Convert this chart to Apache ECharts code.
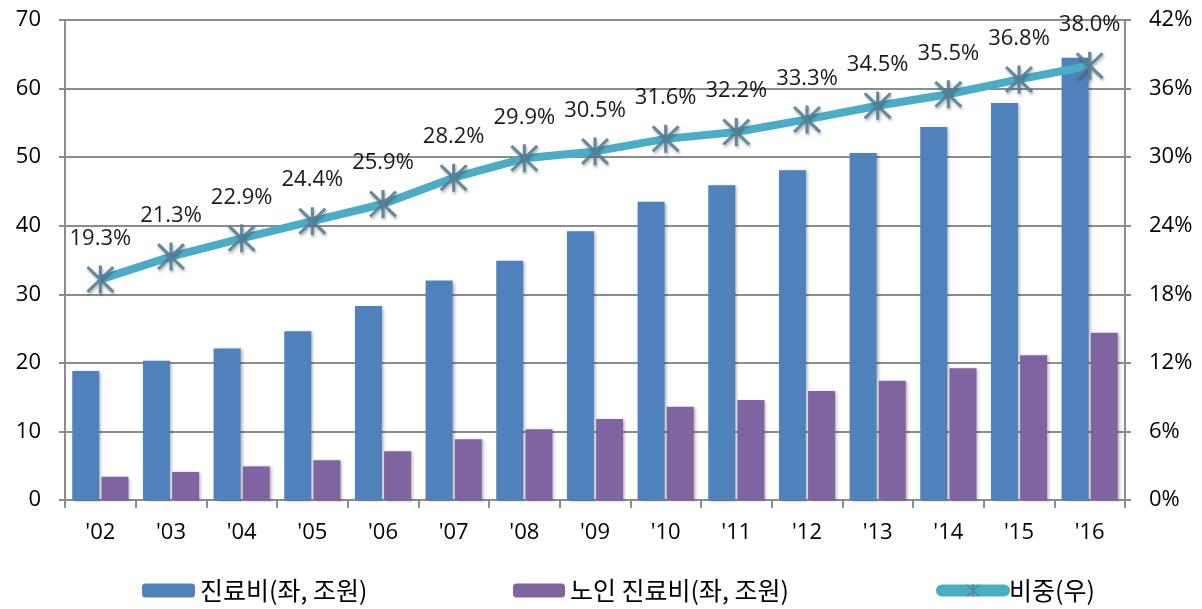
<!DOCTYPE html>
<html>
<head>
<meta charset="utf-8">
<script src="https://cdn.jsdelivr.net/npm/echarts@6/dist/echarts.min.js"></script>
<style>
  html, body { margin: 0; padding: 0; background: #fff; }
  #chart { width: 1202px; height: 609px; }
</style>
</head>
<body>
<div id="chart"></div>
<script>
// years on the x axis
const years = ["'02", "'03", "'04", "'05", "'06", "'07", "'08", "'09", "'10", "'11", "'12", "'13", "'14", "'15", "'16"];
// 진료비 (left axis, 조원)
const totalCost = [18.8, 20.3, 22.1, 24.6, 28.3, 32.0, 34.9, 39.2, 43.5, 45.9, 48.1, 50.6, 54.4, 57.9, 64.5];
// 노인 진료비 (left axis, 조원)
const elderlyCost = [3.4, 4.1, 4.9, 5.8, 7.1, 8.85, 10.3, 11.8, 13.6, 14.6, 15.9, 17.4, 19.2, 21.1, 24.4];
// 비중 (right axis, %)
const share = [19.3, 21.3, 22.9, 24.4, 25.9, 28.2, 29.9, 30.5, 31.6, 32.2, 33.3, 34.5, 35.5, 36.8, 38.0];

const NAMES = ['진료비(좌, 조원)', '노인 진료비(좌, 조원)', '비중(우)'];
const FONT = '"Open Sans", "Noto Sans CJK KR", sans-serif';
const KFONT = '"Noto Sans CJK KR", "Noto Sans", sans-serif';
const GRID_COLOR = '#8c8c8c';

// asterisk marker: vertical bar plus two diagonals
const STAR = 'path://M-1.5,-14L1.5,-14L1.5,14L-1.5,14Z' +
  'M-11.4,-13.5L13.5,11.4L11.4,13.5L-13.5,-11.4Z' +
  'M11.4,-13.5L13.5,-11.4L-11.4,13.5L-13.5,11.4Z';

const chart = echarts.init(document.getElementById('chart'));

const legendBase = {
  bottom: 1,
  itemHeight: 14,
  textStyle: { fontFamily: KFONT, fontSize: 25, color: '#000' },
  selectedMode: false
};

chart.setOption({
  animation: false,
  textStyle: { fontFamily: FONT },
  grid: { left: 65, right: 77, top: 20, bottom: 109 },
  legend: [
    Object.assign({}, legendBase, { left: 137, itemWidth: 53, data: [NAMES[0]] }),
    Object.assign({}, legendBase, { left: 508, itemWidth: 52, data: [NAMES[1]] }),
    Object.assign({}, legendBase, {
      left: 931, itemWidth: 62, itemHeight: 16, data: [NAMES[2]],
      lineStyle: { width: 12, cap: 'round' }
    })
  ],
  xAxis: {
    type: 'category',
    data: years,
    boundaryGap: true,
    axisLine: { lineStyle: { color: GRID_COLOR, width: 2 } },
    axisTick: { show: true, length: 8, lineStyle: { color: GRID_COLOR, width: 2 } },
    axisLabel: { color: '#000', fontSize: 22, margin: 22, fontFamily: FONT }
  },
  yAxis: [
    {
      type: 'value',
      min: 0, max: 70, interval: 10,
      axisLine: { show: true, lineStyle: { color: GRID_COLOR, width: 2 } },
      axisTick: { show: true, length: 6, lineStyle: { color: GRID_COLOR, width: 2 } },
      splitLine: { lineStyle: { color: GRID_COLOR, width: 2 } },
      axisLabel: { color: '#000', fontSize: 22, margin: 24, fontFamily: FONT }
    },
    {
      type: 'value',
      min: 0, max: 42, interval: 6,
      position: 'right',
      axisLine: { show: true, lineStyle: { color: GRID_COLOR, width: 2 } },
      axisTick: { show: true, length: 6, lineStyle: { color: GRID_COLOR, width: 2 } },
      splitLine: { show: false },
      axisLabel: { color: '#000', fontSize: 22, margin: 24, fontFamily: FONT, formatter: '{value}%' }
    }
  ],
  series: [
    {
      name: NAMES[0],
      type: 'bar',
      data: totalCost,
      barWidth: 27,
      barGap: '8%',
      itemStyle: {
        color: '#4f81bd',
        shadowColor: 'rgba(0,0,0,0.3)', shadowBlur: 3, shadowOffsetX: 2, shadowOffsetY: 1
      }
    },
    {
      name: NAMES[1],
      type: 'bar',
      data: elderlyCost,
      barWidth: 27,
      itemStyle: {
        color: '#8064a2',
        shadowColor: 'rgba(0,0,0,0.3)', shadowBlur: 3, shadowOffsetX: 2, shadowOffsetY: 1
      }
    },
    {
      name: NAMES[2],
      type: 'line',
      yAxisIndex: 1,
      data: share,
      symbol: STAR,
      symbolSize: 28,
      lineStyle: { color: '#4bacc6', width: 8 },
      itemStyle: {
        color: '#587f97',
        opacity: 0.9,
        shadowColor: 'rgba(0,0,0,0.35)', shadowBlur: 3, shadowOffsetX: 1, shadowOffsetY: 2
      },
      label: {
        show: true,
        position: 'top',
        distance: 16,
        color: '#000',
        fontSize: 22,
        fontFamily: FONT,
        formatter: (p) => p.value.toFixed(1) + '%'
      },
      z: 5
    }
  ]
});
</script>
</body>
</html>
